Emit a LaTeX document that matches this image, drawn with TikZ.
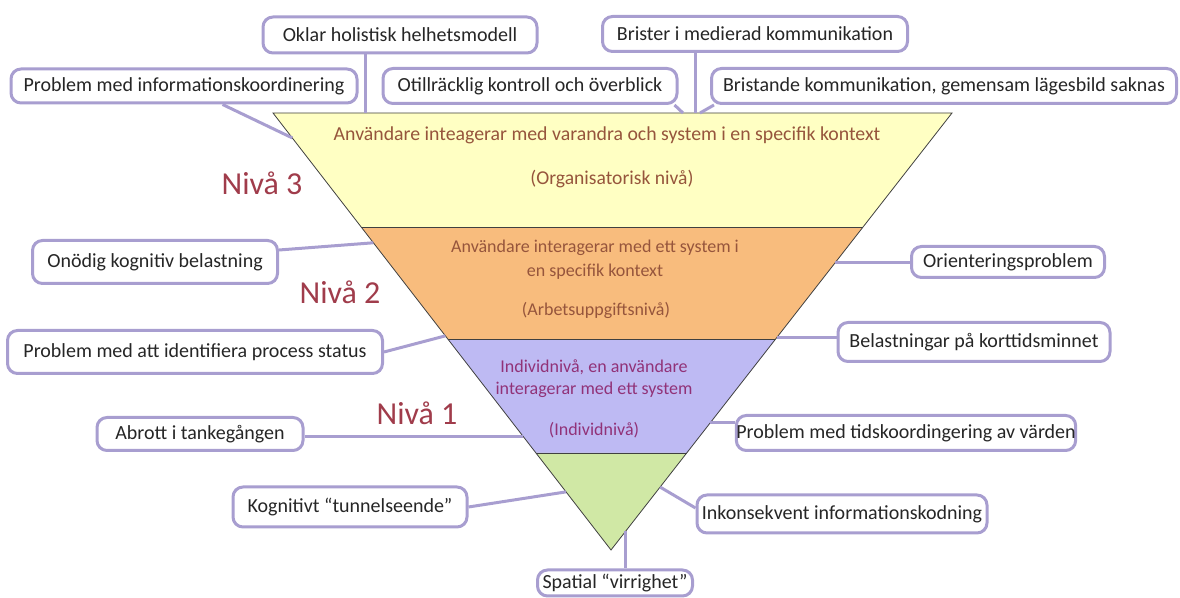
\documentclass[tikz,border=0pt]{standalone}
\usepackage{fontspec}
\setmainfont{Carlito}
\usetikzlibrary{calc}

\definecolor{boxline}{RGB}{168,158,208}
\definecolor{lvl3}{RGB}{255,255,195}
\definecolor{lvl2}{RGB}{248,188,125}
\definecolor{lvl1}{RGB}{190,186,243}
\definecolor{lvl0}{RGB}{208,232,165}
\definecolor{nivared}{RGB}{160,60,75}
\definecolor{bandbrown}{RGB}{150,85,60}
\definecolor{bandpurple}{RGB}{145,50,120}

\begin{document}
\begin{tikzpicture}[x=0.5pt,y=-0.5pt,
 prob node/.style={draw=boxline,line width=1.5pt,rounded corners=5pt,fill=white,
   text=black!85,inner sep=0pt,font=\fontsize{10}{12}\selectfont},
 link/.style={boxline,line width=1.5pt},
 niva/.style={text=nivared,font=\fontsize{16}{19}\selectfont},
 band text/.style={text=bandbrown,align=center,font=\fontsize{9}{12}\selectfont}]
\useasboundingbox (0,0) rectangle (1180,598);

% the pyramid
\coordinate (tl) at (273,113); \coordinate (tr) at (952,113); \coordinate (ap) at (611,550);
\foreach \i/\f in {1/0.261,2/0.519,3/0.778}{
  \coordinate (l\i) at ($(tl)!\f!(ap)$);
  \coordinate (r\i) at ($(tr)!\f!(ap)$);}
\fill[lvl3] (tl) -- (tr) -- (r1) -- (l1) -- cycle;
\fill[lvl2] (l1) -- (r1) -- (r2) -- (l2) -- cycle;
\fill[lvl1] (l2) -- (r2) -- (r3) -- (l3) -- cycle;
\fill[lvl0] (l3) -- (r3) -- (ap) -- cycle;
\draw[black!75,thin] (l1) -- (r1) (l2) -- (r2) (l3) -- (r3);
\draw[black!75,thin] (tl) -- (tr) -- (ap) -- cycle;

\node[band text,font=\fontsize{9.9}{12}\selectfont](t3a) at (607,135){Användare inteagerar med varandra och system i en specifik kontext};
\node[band text,font=\fontsize{9.8}{12}\selectfont](t3b) at (612,179){(Organisatorisk nivå)};
\node[band text](t2a) at (595,260){Användare interagerar med ett system i\\en specifik kontext};
\node[band text](t2b) at (596,310){(Arbetsuppgiftsnivå)};
\node[band text,text=bandpurple](t1a) at (594,379){Individnivå, en användare\\[-1pt]interagerar med ett system};
\node[band text,text=bandpurple](t1b) at (594,430){(Individnivå)};

\node[niva](n3) at (262,183){Nivå 3};
\node[niva](n2) at (340,292){Nivå 2};
\node[niva](n1) at (417,413){Nivå 1};

% problem boxes
\foreach \n/\x/\y/\w/\h/\t in {
  oklar/400/35/274/36/{Oklar holistisk helhetsmodell},
  brister/755/34/305/35/{Brister i medierad kommunikation},
  infokoord/184/86/346/34/{Problem med informationskoordinering},
  otillr/530/86/294/35/{Otillräcklig kontroll och överblick},
  bristande/944/86/465/35/{Bristande kommunikation, gemensam lägesbild saknas},
  onodig/155/262/245/43/{Onödig kognitiv belastning},
  identif/195/352/375/43/{Problem med att identifiera process status},
  abrott/200/434/206/33/{Abrott i tankegången},
  tunnel/350/507/234/40/{Kognitivt “tunnelseende”},
  spatial/615/583/155/26/{Spatial “virrighet”},
  inkons/842/514/290/38/{Inkonsekvent informationskodning},
  tidskoord/906/433/337/35/{Problem med tidskoordingering av värden},
  belast/974/342/272/39/{Belastningar på korttidsminnet},
  orient/1008/262/193/31/{Orienteringsproblem}}{
  \node[prob node,minimum width=\w*0.5pt,minimum height=\h*0.5pt](\n) at (\x,\y){\t};}

% where the links meet the pyramid
\foreach \c/\f in {e3/0.057,e6/0.297,e7/0.510,e8/0.741,e9/0.867}
  \coordinate (\c) at ($(tl)!\f!(ap)$);
\foreach \c/\f in {e10/0.957,e11/0.856,e12/0.709,e13/0.513,e14/0.343}
  \coordinate (\c) at ($(tr)!\f!(ap)$);
\coordinate (e1) at (365,113); \coordinate (e2) at (695,113);
\coordinate (e4) at (683,113); \coordinate (e5) at (700,113);

\path[link]
  (e1 |- oklar.south) edge (e1)
  (e2 |- brister.south) edge (e2)
  (infokoord) edge (e3)
  ([xshift=-2pt]otillr.south east) edge (e4)
  ([xshift=2pt]bristande.south west) edge (e5)
  ([yshift=6pt]onodig.east) edge (e6)
  (identif.east) edge (e7)
  (e8 -| abrott.east) edge (e8)
  (tunnel.east) edge (e9)
  (e10) edge (e10 |- spatial.north)
  ([yshift=3pt]inkons.west) edge (e11)
  (e12) edge (e12 -| tidskoord.west)
  (e13) edge (e13 -| belast.west)
  (e14) edge (e14 -| orient.west);
\end{tikzpicture}
\end{document}
